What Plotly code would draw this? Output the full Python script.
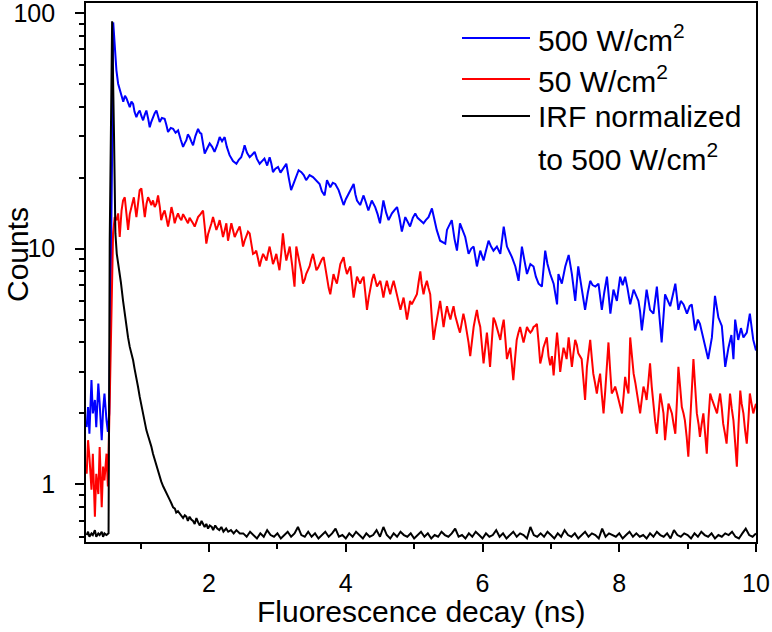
import math
import plotly.graph_objects as go

# ---------------- data ----------------
t_500 = [0.21, 0.23, 0.25, 0.28, 0.30, 0.33, 0.35, 0.38, 0.40, 0.43, 0.45, 0.47, 0.50, 0.52,
         0.54, 0.56, 0.585, 0.598, 0.62, 0.645, 0.67, 0.693, 0.718, 0.745, 0.77, 0.791, 0.815,
         0.84, 0.865, 0.889, 0.91, 0.937, 0.96, 0.986, 1.01, 1.035, 1.06, 1.083, 1.11, 1.132,
         1.155, 1.18, 1.205, 1.23, 1.255, 1.278, 1.31, 1.35, 1.375, 1.40, 1.44, 1.474, 1.51,
         1.547, 1.585, 1.62, 1.645, 1.668, 1.69, 1.716, 1.74, 1.766, 1.80, 1.839, 1.865, 1.887,
         1.91, 1.936, 1.97, 2.009, 2.045, 2.08, 2.12, 2.155, 2.19, 2.228, 2.26, 2.30, 2.35,
         2.40, 2.435, 2.47, 2.50, 2.52, 2.555, 2.594, 2.63, 2.667, 2.70, 2.74, 2.775, 2.81,
         2.85, 2.886, 2.91, 2.935, 2.97, 3.009, 3.045, 3.08, 3.105, 3.13, 3.165, 3.20, 3.24,
         3.276, 3.31, 3.35, 3.385, 3.42, 3.47, 3.52, 3.57, 3.617, 3.65, 3.69, 3.725, 3.773,
         3.81, 3.846, 3.895, 3.93, 3.968, 4.00, 4.04, 4.08, 4.115, 4.14, 4.164, 4.21, 4.26,
         4.30, 4.33, 4.38, 4.43, 4.465, 4.50, 4.55, 4.59, 4.626, 4.675, 4.715, 4.75, 4.785,
         4.82, 4.87, 4.905, 4.94, 4.98, 5.016, 5.05, 5.09, 5.137, 5.17, 5.21, 5.26, 5.295,
         5.33, 5.38, 5.455, 5.48, 5.515, 5.55, 5.59, 5.626, 5.67, 5.71, 5.747, 5.796, 5.835,
         5.87, 5.918, 5.967, 6.015, 6.05, 6.088, 6.125, 6.16, 6.21, 6.26, 6.31, 6.357, 6.43,
         6.48, 6.527, 6.576, 6.61, 6.65, 6.70, 6.746, 6.78, 6.82, 6.868, 6.917, 6.95, 6.99,
         7.04, 7.063, 7.09, 7.11, 7.16, 7.21, 7.26, 7.307, 7.356, 7.40, 7.45, 7.50, 7.54,
         7.575, 7.61, 7.65, 7.696, 7.745, 7.78, 7.82, 7.87, 7.915, 7.965, 8.013, 8.05, 8.086,
         8.12, 8.16, 8.21, 8.28, 8.305, 8.33, 8.37, 8.40, 8.45, 8.50, 8.55, 8.585, 8.62, 8.67,
         8.71, 8.745, 8.78, 8.82, 8.865, 8.90, 8.94, 8.99, 9.03, 9.06, 9.11, 9.15, 9.18, 9.22,
         9.256, 9.30, 9.355, 9.40, 9.45, 9.50, 9.55, 9.597, 9.64, 9.67, 9.695, 9.74, 9.78,
         9.816, 9.865, 9.91, 9.96, 10.0]
counts_500 = [1.75, 2.13, 1.64, 2.77, 2.00, 2.28, 1.75, 2.68, 2.20, 1.54, 2.07, 2.43, 1.87, 1.67,
              2.0, 6.0, 30, 91, 69, 57, 50, 46.9, 44.7, 42, 44.5, 43.4, 41.5,
              39.8, 42, 41.1, 38, 36.1, 37.5, 38.5, 36.5, 35, 37, 38.5, 35.5, 32.7,
              34.5, 36.1, 37.5, 38.5, 36, 34.4, 35.8, 35.5, 33.5, 31.2, 32.5, 32.2, 31,
              31.7, 29, 27, 28, 28.8, 30.5, 29.7, 28.5, 27.4, 30, 32.2, 31, 30.7,
              28, 25.3, 26.5, 27.9, 27, 25.7, 27.5, 29.7, 28.5, 29.7, 27, 24.9, 23.5,
              22.9, 23.8, 24.4, 26, 27.4, 25.5, 24.4, 25, 25.7, 24, 22.9, 23.5, 24.1,
              22.5, 24.4, 23, 21.1, 21.8, 22.2, 21, 21.8, 22.5, 22.9, 20, 17.7, 19,
              20.1, 21.5, 21.1, 20.5, 19.5, 20.5, 20.1, 19.5, 18.8, 17.5, 16.8, 19.5, 18.2,
              19, 18.8, 17.7, 16.5, 15.3, 16.2, 17.1, 18, 18.8, 17, 16.0, 15.3, 16.8,
              15.5, 14.5, 16.0, 15.0, 14, 12.8, 16.0, 14.2, 13.2, 14.1, 14.6, 15.0, 13.5,
              11.8, 13.6, 13, 12.4, 13.5, 14.1, 13.5, 13.2, 12.8, 13.2, 13.6, 14.8, 13.2,
              12.0, 10.8, 10.5, 12.0, 12.5, 13.2, 11, 9.8, 12.8, 11.8, 11.2, 9.5, 10,
              10.2, 8.4, 9.8, 8.9, 9.8, 10.8, 10.2, 9.8, 10.2, 9.5, 12.4, 10.2, 9.2,
              8.4, 7.3, 10.2, 9, 7.8, 8.6, 8.4, 7.6, 7.1, 6.9, 9.8, 8.6, 7.8,
              7.1, 6.4, 5.8, 7.8, 7.1, 8.4, 9.4, 7.8, 6.0, 8.4, 6.9, 5.5, 6.5,
              7.3, 7.0, 6.9, 7.1, 5.5, 6.5, 7.6, 5.3, 6.7, 6.0, 7.6, 7.0, 7.6,
              6.8, 5.8, 6.7, 6.0, 5.4, 4.5, 5.6, 6.7, 5.5, 5.3, 6.9, 5.2, 4.0, 6.4,
              6.0, 5.7, 6.3, 7.1, 5.5, 6.0, 5.8, 5.3, 5.7, 5.8, 4.5, 5.0, 4.8, 4.3,
              3.8, 3.4, 4.2, 6.3, 5.1, 4.7, 3.15, 3.8, 4.3, 3.4, 5.0, 4.1, 4.6,
              4.2, 4.4, 5.3, 4.1, 3.7]

t_50 = [0.21, 0.23, 0.25, 0.28, 0.30, 0.33, 0.35, 0.38, 0.40, 0.43, 0.45, 0.47, 0.50, 0.52,
        0.55, 0.575, 0.596, 0.62, 0.645, 0.67, 0.693, 0.72, 0.742, 0.767, 0.79, 0.816, 0.84,
        0.864, 0.90, 0.937, 0.96, 0.985, 1.01, 1.035, 1.06, 1.085, 1.108, 1.13, 1.156, 1.18,
        1.205, 1.23, 1.254, 1.28, 1.30, 1.325, 1.35, 1.375, 1.40, 1.425, 1.45, 1.475, 1.497,
        1.52, 1.546, 1.57, 1.595, 1.62, 1.643, 1.67, 1.692, 1.715, 1.74, 1.765, 1.79, 1.815,
        1.839, 1.875, 1.912, 1.935, 1.96, 1.985, 2.009, 2.035, 2.058, 2.08, 2.107, 2.13, 2.155,
        2.18, 2.204, 2.23, 2.253, 2.277, 2.30, 2.326, 2.35, 2.375, 2.41, 2.448, 2.47, 2.497,
        2.52, 2.545, 2.57, 2.594, 2.62, 2.643, 2.67, 2.69, 2.715, 2.74, 2.765, 2.79, 2.815,
        2.84, 2.86, 2.886, 2.91, 2.935, 2.96, 2.984, 3.005, 3.03, 3.055, 3.08, 3.105, 3.13,
        3.155, 3.18, 3.215, 3.25, 3.276, 3.30, 3.325, 3.35, 3.374, 3.40, 3.42, 3.445, 3.47,
        3.495, 3.52, 3.545, 3.57, 3.595, 3.617, 3.65, 3.676, 3.70, 3.725, 3.75, 3.773, 3.80,
        3.82, 3.845, 3.87, 3.895, 3.92, 3.945, 3.968, 3.99, 4.017, 4.04, 4.066, 4.09, 4.115,
        4.14, 4.164, 4.19, 4.21, 4.235, 4.26, 4.285, 4.31, 4.335, 4.36, 4.385, 4.41, 4.43,
        4.456, 4.48, 4.505, 4.53, 4.55, 4.575, 4.60, 4.625, 4.65, 4.675, 4.70, 4.725, 4.75,
        4.775, 4.80, 4.82, 4.845, 4.87, 4.895, 4.92, 4.94, 4.965, 4.99, 5.015, 5.04, 5.065,
        5.09, 5.11, 5.137, 5.16, 5.186, 5.21, 5.235, 5.26, 5.284, 5.31, 5.33, 5.355, 5.38,
        5.405, 5.43, 5.455, 5.48, 5.505, 5.53, 5.555, 5.576, 5.60, 5.626, 5.65, 5.67, 5.695,
        5.72, 5.745, 5.77, 5.795, 5.82, 5.845, 5.87, 5.895, 5.918, 5.94, 5.967, 5.99, 6.015,
        6.04, 6.064, 6.09, 6.11, 6.135, 6.16, 6.185, 6.21, 6.235, 6.26, 6.285, 6.31, 6.335,
        6.357, 6.38, 6.405, 6.43, 6.45, 6.475, 6.50, 6.525, 6.55, 6.575, 6.60, 6.625, 6.65,
        6.675, 6.70, 6.725, 6.746, 6.77, 6.795, 6.82, 6.844, 6.87, 6.89, 6.915, 6.94, 6.965,
        6.99, 7.015, 7.04, 7.065, 7.09, 7.11, 7.136, 7.16, 7.185, 7.21, 7.23, 7.26, 7.285,
        7.307, 7.33, 7.355, 7.38, 7.40, 7.425, 7.45, 7.475, 7.50, 7.527, 7.55, 7.575, 7.60,
        7.62, 7.645, 7.672, 7.695, 7.72, 7.745, 7.77, 7.795, 7.82, 7.842, 7.865, 7.89, 7.915,
        7.94, 7.965, 7.99, 8.015, 8.04, 8.065, 8.086, 8.11, 8.135, 8.16, 8.185, 8.21, 8.235,
        8.257, 8.28, 8.305, 8.33, 8.354, 8.38, 8.40, 8.425, 8.45, 8.475, 8.50, 8.525, 8.55,
        8.575, 8.60, 8.625, 8.647, 8.67, 8.695, 8.72, 8.745, 8.77, 8.795, 8.82, 8.845, 8.865,
        8.89, 8.915, 8.94, 8.96, 8.985, 9.01, 9.035, 9.06, 9.085, 9.11, 9.135, 9.16, 9.18,
        9.205, 9.23, 9.255, 9.28, 9.305, 9.33, 9.355, 9.38, 9.405, 9.43, 9.45, 9.475, 9.50,
        9.52, 9.545, 9.57, 9.595, 9.62, 9.645, 9.67, 9.695, 9.72, 9.745, 9.77, 9.79, 9.816,
        9.84, 9.865, 9.89, 9.91, 9.935, 9.96, 9.98, 10.0]
counts_50 = [1.11, 1.54, 1.31, 0.95, 1.35, 0.73, 1.11, 0.91, 1.44, 0.80, 1.19, 1.04, 1.35, 0.98,
             2.5, 6.5, 11.6, 13.6, 13.2, 14.1, 11.2, 14.5, 16.0, 16.5, 14, 12.0, 14,
             15.0, 16.5, 13.6, 15.5, 17.7, 18.0, 16, 13.6, 15.5, 16.5, 16, 15.3, 16,
             15.0, 15.5, 16.8, 15, 13.2, 14, 14.5, 13.5, 12.4, 13.5, 15.0, 14, 12.8,
             13.5, 14.1, 13.5, 13.2, 14, 13.6, 13, 12.8, 13.5, 13.2, 12.8, 12.4, 13,
             13.6, 14, 14.5, 12.5, 10.5, 11.5, 12.0, 12.8, 13.6, 12.8, 12.0, 12.5, 13.2,
             12.2, 11.2, 12, 12.8, 10.8, 11.8, 12.8, 12, 11.2, 11.8, 12.4, 11.5, 10.2,
             10.8, 11.2, 11.8, 11.6, 10.5, 9.5, 9.6, 9.8, 9.1, 8.4, 9, 9.5, 9.2,
             8.9, 9.5, 10.2, 9.4, 8.6, 9, 9.5, 8.8, 8.1, 9.5, 11.6, 10, 8.9,
             9.5, 10.2, 8.5, 6.9, 10.2, 9.5, 8.9, 8, 7.1, 7.4, 7.8, 8.1, 8.4,
             9, 9.5, 8.8, 8.1, 8.3, 8.6, 9.0, 9.2, 8.2, 7.3, 6.8, 6.4, 7.2,
             7.8, 7.4, 7.1, 7.8, 8.6, 8.9, 9.2, 8.4, 7.8, 8.1, 8.4, 7.2, 6.2,
             6.9, 7.6, 7.3, 7.1, 7.4, 7.6, 6.5, 5.5, 6.2, 6.9, 7.4, 7.8, 7.3,
             6.9, 7.1, 7.3, 6.7, 6.2, 6.8, 7.3, 6.8, 6.4, 6.9, 7.3, 6.8, 6.4,
             5.9, 5.5, 5.8, 6.2, 5.6, 5.0, 5.5, 6.0, 5.8, 6.0, 6.2, 6.4, 7.2,
             8.0, 7.1, 6.4, 6.9, 7.3, 6.8, 6.4, 5.0, 4.1, 4.6, 5.0, 5.5, 6.0,
             5.3, 4.65, 5.2, 5.7, 5.3, 5.0, 5.4, 5.7, 5.2, 4.8, 4.6, 4.4, 4.9,
             5.3, 4.9, 4.5, 4.0, 3.5, 4.1, 4.65, 5.1, 5.5, 5.0, 4.65, 3.9, 3.26,
             3.8, 4.4, 3.7, 3.15, 4.0, 5.1, 4.9, 4.65, 4.4, 4.1, 4.6, 5.0, 4.1,
             3.4, 3.6, 3.8, 3.2, 2.77, 3.4, 4.1, 4.4, 4.65, 4.3, 4.0, 4.3, 4.65,
             4.5, 4.4, 4.5, 4.65, 4.7, 4.8, 4.0, 3.26, 3.5, 3.8, 4.0, 4.2, 3.5,
             3.2, 3.5, 2.9, 3.6, 4.4, 3.8, 3.0, 3.4, 3.8, 3.6, 3.4, 4.2, 3.6,
             3.15, 3.6, 4.1, 3.9, 3.6, 3.5, 3.4, 2.8, 2.28, 3.15, 3.6, 4.1, 3.4,
             2.95, 2.7, 2.43, 2.7, 2.95, 2.4, 2.0, 2.5, 3.15, 4.0, 3.1, 2.43, 2.5,
             2.6, 2.45, 2.28, 2.1, 2.0, 2.4, 2.86, 2.6, 2.43, 4.2, 3.4, 2.95, 2.7,
             2.43, 2.2, 2.0, 2.3, 2.6, 2.45, 2.28, 2.7, 3.26, 2.6, 2.13, 1.85, 1.64,
             2.0, 2.43, 2.2, 2.0, 1.54, 1.9, 2.2, 2.1, 2.0, 1.8, 1.64, 2.3, 3.15,
             2.6, 2.13, 2.0, 1.87, 1.6, 1.31, 1.8, 2.43, 3.4, 2.6, 2.0, 1.8, 1.59,
             1.8, 2.0, 1.65, 1.35, 1.9, 2.43, 2.3, 2.2, 2.1, 2.0, 2.2, 2.43, 2.1,
             1.81, 1.65, 1.49, 1.9, 2.43, 2.1, 1.87, 1.5, 1.19, 1.8, 2.5, 2.2, 2.0,
             1.7, 1.49, 1.9, 2.43, 2.2, 2.0, 2.1, 2.2]

t_irf = [0.21, 0.23, 0.25, 0.28, 0.30, 0.33, 0.35, 0.38, 0.40, 0.43, 0.45, 0.47, 0.50, 0.53,
         0.547, 0.582, 0.61, 0.63, 0.65, 0.678, 0.71, 0.742, 0.765, 0.79, 0.815, 0.84, 0.865,
         0.889, 0.91, 0.937, 0.96, 0.986, 1.01, 1.035, 1.06, 1.083, 1.11, 1.13, 1.155, 1.18,
         1.205, 1.23, 1.255, 1.278, 1.30, 1.33, 1.355, 1.376, 1.40, 1.425, 1.45, 1.474, 1.50,
         1.52, 1.545, 1.57, 1.595, 1.62, 1.645, 1.668, 1.69, 1.715, 1.74, 1.766, 1.79, 1.815,
         1.84, 1.865, 1.89, 1.91, 1.935, 1.96, 1.985, 2.01, 2.04, 2.06, 2.09, 2.12, 2.15,
         2.18, 2.21, 2.25, 2.28, 2.32, 2.36, 2.40, 2.45,
         2.50, 2.55, 2.60, 2.65, 2.70, 2.75, 2.80, 2.85, 2.90, 2.95,
         3.00, 3.05, 3.10, 3.15, 3.20, 3.25, 3.30, 3.35, 3.40, 3.45,
         3.50, 3.55, 3.60, 3.65, 3.70, 3.75, 3.80, 3.85, 3.90, 3.95,
         4.00, 4.05, 4.10, 4.15, 4.20, 4.25, 4.30, 4.35, 4.40, 4.45,
         4.50, 4.55, 4.60, 4.65, 4.70, 4.75, 4.80, 4.85, 4.90, 4.95,
         5.00, 5.05, 5.10, 5.15, 5.20, 5.25, 5.30, 5.35, 5.40, 5.45,
         5.50, 5.55, 5.60, 5.65, 5.70, 5.75, 5.80, 5.85, 5.90, 5.95,
         6.00, 6.05, 6.10, 6.15, 6.20, 6.25, 6.30, 6.35, 6.40, 6.45,
         6.50, 6.55, 6.60, 6.65, 6.70, 6.75, 6.80, 6.85, 6.90, 6.95,
         7.00, 7.05, 7.10, 7.15, 7.20, 7.25, 7.30, 7.35, 7.40, 7.45,
         7.50, 7.55, 7.60, 7.65, 7.70, 7.75, 7.80, 7.85, 7.90, 7.95,
         8.00, 8.05, 8.10, 8.15, 8.20, 8.25, 8.30, 8.35, 8.40, 8.45,
         8.50, 8.55, 8.60, 8.65, 8.70, 8.75, 8.80, 8.85, 8.90, 8.95,
         9.00, 9.05, 9.10, 9.15, 9.20, 9.25, 9.30, 9.35, 9.40, 9.45,
         9.50, 9.55, 9.60, 9.65, 9.70, 9.75, 9.80, 9.85, 9.90, 9.95,
         10.00]
counts_irf = [0.61, 0.63, 0.60, 0.62, 0.61, 0.64, 0.60, 0.62, 0.61, 0.63, 0.60, 0.62, 0.61, 0.62,
              10.8, 92, 30, 11.6, 9.5, 8.4, 7.2, 6.0, 5.3, 4.7, 4.2, 3.83, 3.6,
              3.36, 3.1, 2.86, 2.6, 2.35, 2.15, 2.0, 1.85, 1.70, 1.6, 1.54, 1.45, 1.35,
              1.27, 1.19, 1.12, 1.08, 1.03, 0.98, 0.95, 0.92, 0.89, 0.86, 0.83, 0.80, 0.79,
              0.76, 0.77, 0.75, 0.74, 0.72, 0.74, 0.73, 0.70, 0.73, 0.71, 0.70, 0.68, 0.72,
              0.69, 0.67, 0.70, 0.68, 0.66, 0.68, 0.65, 0.67, 0.66, 0.64, 0.67, 0.65, 0.64,
              0.66, 0.63, 0.65, 0.63, 0.64, 0.62, 0.64, 0.62,
              0.62, 0.60, 0.63, 0.61, 0.59, 0.62, 0.60, 0.64, 0.61, 0.60,
              0.62, 0.59, 0.61, 0.63, 0.60, 0.62, 0.66, 0.61, 0.60, 0.63,
              0.60, 0.62, 0.59, 0.61, 0.63, 0.60, 0.62, 0.65, 0.60, 0.61,
              0.59, 0.62, 0.60, 0.63, 0.61, 0.59, 0.62, 0.60, 0.61, 0.64,
              0.60, 0.66, 0.61, 0.59, 0.62, 0.60, 0.63, 0.61, 0.60, 0.62,
              0.59, 0.61, 0.63, 0.60, 0.62, 0.59, 0.61, 0.60, 0.63, 0.61,
              0.60, 0.62, 0.65, 0.60, 0.61, 0.59, 0.62, 0.60, 0.63, 0.61,
              0.59, 0.62, 0.60, 0.61, 0.64, 0.60, 0.62, 0.59, 0.61, 0.63,
              0.60, 0.62, 0.61, 0.59, 0.66, 0.61, 0.60, 0.62, 0.60, 0.63,
              0.61, 0.59, 0.62, 0.60, 0.64, 0.61, 0.60, 0.62, 0.59, 0.61,
              0.63, 0.60, 0.62, 0.61, 0.59, 0.65, 0.60, 0.62, 0.61, 0.60,
              0.62, 0.59, 0.61, 0.63, 0.60, 0.62, 0.60, 0.61, 0.59, 0.62,
              0.60, 0.63, 0.61, 0.60, 0.62, 0.59, 0.64, 0.61, 0.60, 0.62,
              0.61, 0.59, 0.62, 0.60, 0.63, 0.61, 0.60, 0.62, 0.59, 0.61,
              0.60, 0.62, 0.61, 0.63, 0.60, 0.59, 0.62, 0.65, 0.61, 0.60,
              0.62]

series_names = ["500 W/cm<sup>2</sup>", "50 W/cm<sup>2</sup>", "IRF normalized", "to 500 W/cm<sup>2</sup>"]
x_ticks = [2, 4, 6, 8, 10]
x_minor = [1, 3, 5, 7, 9]
y_ticks = [1, 10, 100]
y_minor = [0.6, 0.7, 0.8, 0.9, 2, 3, 4, 5, 6, 7, 8, 9, 20, 30, 40, 50, 60, 70, 80, 90]
x_range = [0.2, 10]
y_range = [0.57, 110]
x_title = "Fluorescence decay (ns)"
y_title = "Counts"

# ---------------- figure ----------------
W, H = 772, 632
PL, PR, PT, PB = 86, 756, 3, 542
FONT = "Arial, Liberation Sans, sans-serif"
BLUE, RED, BLACK = "#0000FF", "#FF0000", "#000000"
LW = 2.0
TICK_SIZE = 25
TITLE_SIZE = 30
LEGEND_SIZE = 30


def px(x):
    return (x - PL) / (PR - PL)


def py(y):
    return (PB - y) / (PB - PT)


fig = go.Figure()
fig.add_trace(go.Scatter(x=t_500, y=counts_500, mode="lines",
                         line=dict(color=BLUE, width=LW), showlegend=False))
fig.add_trace(go.Scatter(x=t_50, y=counts_50, mode="lines",
                         line=dict(color=RED, width=LW), showlegend=False))
fig.add_trace(go.Scatter(x=t_irf, y=counts_irf, mode="lines",
                         line=dict(color=BLACK, width=LW), showlegend=False))

axis_common = dict(showline=True, linecolor="black", linewidth=1.6, mirror=True,
                   ticks="outside", tickcolor="black", tickwidth=1.5,
                   showgrid=False, zeroline=False, automargin=False,
                   ticklabeloverflow="allow",
                   tickfont=dict(family=FONT, size=TICK_SIZE, color="black"))

fig.update_xaxes(range=x_range, tickvals=x_ticks, ticklen=8, ticklabelstandoff=10,
                 minor=dict(tickvals=x_minor, ticks="outside", ticklen=5,
                            tickcolor="black", tickwidth=1.5),
                 **axis_common)
fig.update_yaxes(type="log", range=[math.log10(y_range[0]), math.log10(y_range[1])],
                 tickvals=y_ticks, ticktext=[str(v) for v in y_ticks], ticklen=9,
                 ticklabelstandoff=15,
                 minor=dict(tickvals=y_minor, ticks="outside", ticklen=5,
                            tickcolor="black", tickwidth=1.5),
                 **axis_common)

# legend drawn by hand (long sample lines as in the reference)
legend_rows = [(38, BLUE, series_names[0]), (79, RED, series_names[1]),
               (116, BLACK, series_names[2])]
shapes = []
annotations = []
for yc, col, txt in legend_rows:
    shapes.append(dict(type="line", xref="paper", yref="paper",
                       x0=px(462), x1=px(530), y0=py(yc), y1=py(yc),
                       line=dict(color=col, width=LW)))
    annotations.append(dict(xref="paper", yref="paper", x=px(536), y=py(yc),
                            xanchor="left", yanchor="middle", text=txt, showarrow=False,
                            font=dict(family=FONT, size=LEGEND_SIZE, color="black")))
annotations.append(dict(xref="paper", yref="paper", x=px(536), y=py(157),
                        xanchor="left", yanchor="middle", text=series_names[3],
                        showarrow=False, font=dict(family=FONT, size=LEGEND_SIZE, color="black")))
# axis titles
annotations.append(dict(xref="paper", yref="paper", x=px((PL + PR) / 2), y=py(611),
                        xanchor="center", yanchor="middle", text=x_title, showarrow=False,
                        font=dict(family=FONT, size=TITLE_SIZE, color="black")))
annotations.append(dict(xref="paper", yref="paper", x=px(17), y=py(255),
                        xanchor="center", yanchor="middle", text=y_title, showarrow=False,
                        textangle=-90, font=dict(family=FONT, size=TITLE_SIZE, color="black")))

fig.update_layout(width=W, height=H, autosize=False,
                  margin=dict(l=PL, r=W - PR, t=PT, b=H - PB, pad=0),
                  plot_bgcolor="white", paper_bgcolor="white",
                  shapes=shapes, annotations=annotations, showlegend=False,
                  font=dict(family=FONT, color="black"))

fig.write_html("out.html", config={"displayModeBar": False},
               post_script="document.body.style.margin='0';document.body.style.padding='0';")
